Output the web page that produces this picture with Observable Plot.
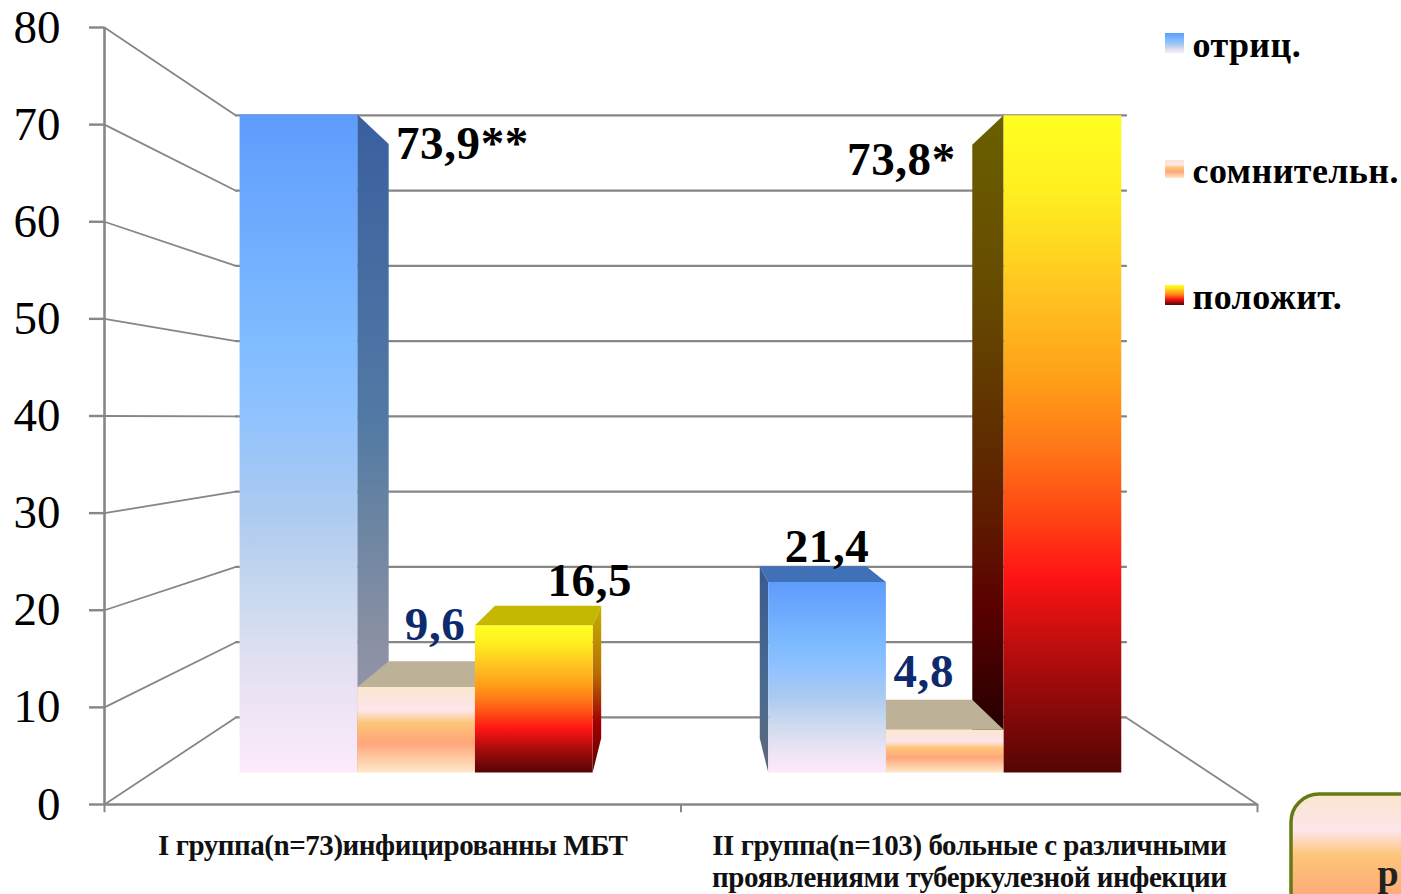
<!DOCTYPE html>
<html><head><meta charset="utf-8">
<script src="https://cdn.jsdelivr.net/npm/d3@7"></script>
<script src="https://cdn.jsdelivr.net/npm/@observablehq/plot@0.6"></script>
<style>
html,body{margin:0;padding:0;background:#fff;overflow:hidden}
.xlab text{letter-spacing:-0.45px}
.leg text{letter-spacing:0.4px}
.val text{letter-spacing:0.6px}
</style></head><body><div id="c"></div>
<script>
const groupLabels = ["I группа(n=73)инфицированны МБТ", "II группа(n=103) больные с различными\nпроявлениями туберкулезной инфекции"];
const seriesNames = ["отриц.", "сомнительн.", "положит."];
const negative = [73.9, 21.4];
const doubtful = [9.6, 4.8];
const positive = [16.5, 73.8];
const negativeLabels = ["73,9**", "21,4"];
const doubtfulLabels = ["9,6", "4,8"];
const positiveLabels = ["16,5", "73,8*"];
const yTicks = [0, 10, 20, 30, 40, 50, 60, 70, 80];

// oblique projection of the 3-D chart, expressed in chart units
const vx = 1, vy = 39.6, sFront = 0.917, sBack = 0.828;
const P = (x, v, s) => ({x: vx + (x - vx) * s, y: vy + (v - vy) * s});
// back wall plane
const W = (x, v) => ({x: vx + (x - vx) * 0.772, y: 39.8 + (v - 39.8) * 0.7748});
const bandStart = 0.165, bandW = 0.2226;

const serieValues = [negative, doubtful, positive];
const serieLabels = [negativeLabels, doubtfulLabels, positiveLabels];
const frontFill = ["url(#gBlue)", "url(#gOrange)", "url(#gRed)"];
const topFill = ["#3f70b8", "#bdb197", "#c4b800"];
const sideFill = [["url(#sBlue)", "url(#sBlueS)"], ["#bdb197", "#bdb197"], ["url(#sRedS)", "url(#sRed)"]];
const labelColor = ["#000", "#0e2a6e", "#000"];
// label offsets in px from the bar's front top-centre
const labelOffset = [[[164, 45], [0, -20]], [[19, -47], [-21, -43]], [[56, -30], [-161, 60]]];

const gradients = {
  gBlue: [[0,"#5e9cfd"],[.35,"#80bcff"],[.45,"#8fc2ff"],[.6,"#abcaf0"],[.75,"#cddaee"],[.85,"#e5e1f2"],[1,"#fdeafa"]],
  gOrange: [[0,"#fbe6cd"],[.27,"#fde5ec"],[.42,"#fcc578"],[.65,"#ffa67a"],[1,"#fde8c8"]],
  gRed: [[0,"#ffff20"],[.12,"#ffee20"],[.3,"#ffbb20"],[.4,"#ffa018"],[.5,"#ff7a18"],[.6,"#ff4a14"],[.7,"#ff1414"],[.83,"#b00c0c"],[1,"#550505"]],
  sBlue: [[0,"#3a5f9f"],[.47,"#527aa5"],[.64,"#6e86a2"],[.8,"#8a90a4"],[1,"#9a98ac"]],
  sBlueS: [[0,"#3a5a90"],[.6,"#4a6a8f"],[1,"#606878"]],
  sRed: [[0,"#6a6000"],[.27,"#664a00"],[.47,"#603000"],[.62,"#5f1a00"],[.75,"#5a0000"],[.9,"#300000"],[1,"#1c0000"]],
  sRedS: [[0,"#c4b000"],[.4,"#b87000"],[.7,"#a00000"],[1,"#600000"]],
  gBox: [[0,"#fbe6cd"],[.25,"#fde5ec"],[.42,"#fcc578"],[.75,"#ffa67a"],[1,"#fde8c8"]]
};
const defs = () => {
  const d = d3.create("svg:defs");
  for (const [id, stops] of Object.entries(gradients)) {
    const g = d.append("linearGradient").attr("id", id).attr("x1", 0).attr("y1", 0).attr("x2", 0).attr("y2", 1);
    for (const [o, c] of stops) g.append("stop").attr("offset", o).attr("stop-color", c);
  }
  return d.node();
};

// bars painted far-from-centre first
const barMarks = [];
const face = (pts, fill) => Plot.line(pts, {x: "x", y: "y", fill, stroke: "none"});
const drawBar = (g, i) => {
  const x0 = g + bandStart + i * bandW, x1 = x0 + bandW, v = serieValues[i][g];
  if (v < vy) barMarks.push(face([P(x0,v,sFront),P(x1,v,sFront),P(x1,v,sBack),P(x0,v,sBack)], topFill[i]));
  const xs = g === 0 ? x1 : x0;
  barMarks.push(face([P(xs,0,sFront),P(xs,v,sFront),P(xs,v,sBack),P(xs,0,sBack)], sideFill[i][g]));
  barMarks.push(face([P(x0,0,sFront),P(x1,0,sFront),P(x1,v,sFront),P(x0,v,sFront)], frontFill[i]));
};
[0,1,2].forEach(i => drawBar(0, i));
[2,1,0].forEach(i => drawBar(1, i));

// labels
const labelMarks = [];
[0,1].forEach(g => [0,1,2].forEach(i => {
  const xc = g + bandStart + (i + .5) * bandW, v = serieValues[i][g], p = P(xc, v, sFront);
  labelMarks.push(Plot.text([serieLabels[i][g]], {
    x: () => p.x, y: () => p.y, text: d => d, dx: labelOffset[i][g][0], dy: labelOffset[i][g][1],
    lineAnchor: "bottom", textAnchor: "middle", fontFamily: "Liberation Serif", fontWeight: "bold",
    fontSize: 47, fill: labelColor[i], className: "val"
  }));
}));

// walls
const grid = "#868686";
const wallLine = (a, b, w) => Plot.line([a, b], {x: "x", y: "y", stroke: grid, strokeWidth: w});
const walls = [];
yTicks.forEach(v => {
  walls.push(wallLine(P(0,v,1), W(0,v), 1.8));
  walls.push(wallLine(W(0,v), W(2,v), 2.2));
});
walls.push(wallLine(P(2,0,1), W(2,0), 1.8));

// px → chart units for the free-standing legend & note
const ux = p => (p - 104) / 576.5, uy = p => (804 - p) / 9.7125;
const legendTop = [33, 160, 285], legendBot = [53, 178, 305], legendBase = [56, 182, 308];
const swatch = ["url(#gBlue)", "url(#gOrange)", "url(#gRed)"];
const legend = [];
seriesNames.forEach((n, i) => {
  legend.push(Plot.rect([n], {x1: () => ux(1165), x2: () => ux(1184), y1: () => uy(legendBot[i]), y2: () => uy(legendTop[i]), fill: swatch[i]}));
  legend.push(Plot.text([n], {x: () => ux(1192), y: () => uy(legendBase[i]), text: d => d, textAnchor: "start", lineAnchor: "bottom",
    fontFamily: "Liberation Serif", fontWeight: "bold", fontSize: 36, fill: "#000", className: "leg"}));
});

const chart = Plot.plot({
  width: 1401, height: 894,
  marginLeft: 104, marginRight: 144, marginTop: 27, marginBottom: 90,
  style: {background: "#fff", display: "block"},
  x: {domain: [0, 2], axis: null},
  y: {domain: [0, 80], axis: null},
  marks: [
    defs,
    ...walls,
    Plot.axisY({ticks: yTicks, anchor: "left", tickSize: 15, tickPadding: 29, label: null, stroke: grid, strokeWidth: 2.4,
      fontSize: 47, fontFamily: "Liberation Serif", fill: "#000", tickFormat: d => d}),
    Plot.ruleX([0], {y1: 0, y2: 80, stroke: grid, strokeWidth: 2.6}),
    Plot.ruleY([0], {x1: 0, x2: 2, stroke: grid, strokeWidth: 2.6}),
    Plot.ruleX([0, 1, 2], {y1: 0, y2: -0.85, stroke: grid, strokeWidth: 2}),
    ...barMarks,
    ...labelMarks,
    ...groupLabels.map((t, g) => Plot.text([t], {
      x: () => g + .5, y: () => uy(832), text: d => d, lineAnchor: "top", textAnchor: "middle",
      fontFamily: "Liberation Serif", fontWeight: "bold", fontSize: 29, lineHeight: 1.1, fill: "#111", className: "xlab"
    })),
    ...legend,
    Plot.rect(["note"], {x1: () => ux(1291), x2: () => ux(1560), y1: () => uy(940), y2: () => uy(794),
      fill: "url(#gBox)", stroke: "#667a14", strokeWidth: 3.5, rx: 28}),
    Plot.text(["р"], {x: () => ux(1377), y: () => uy(885), text: d => d, textAnchor: "start", lineAnchor: "bottom",
      fontFamily: "Liberation Serif", fontWeight: "bold", fontSize: 38, fill: "#222"})
  ]
});
document.getElementById("c").append(chart);
</script></body></html>
